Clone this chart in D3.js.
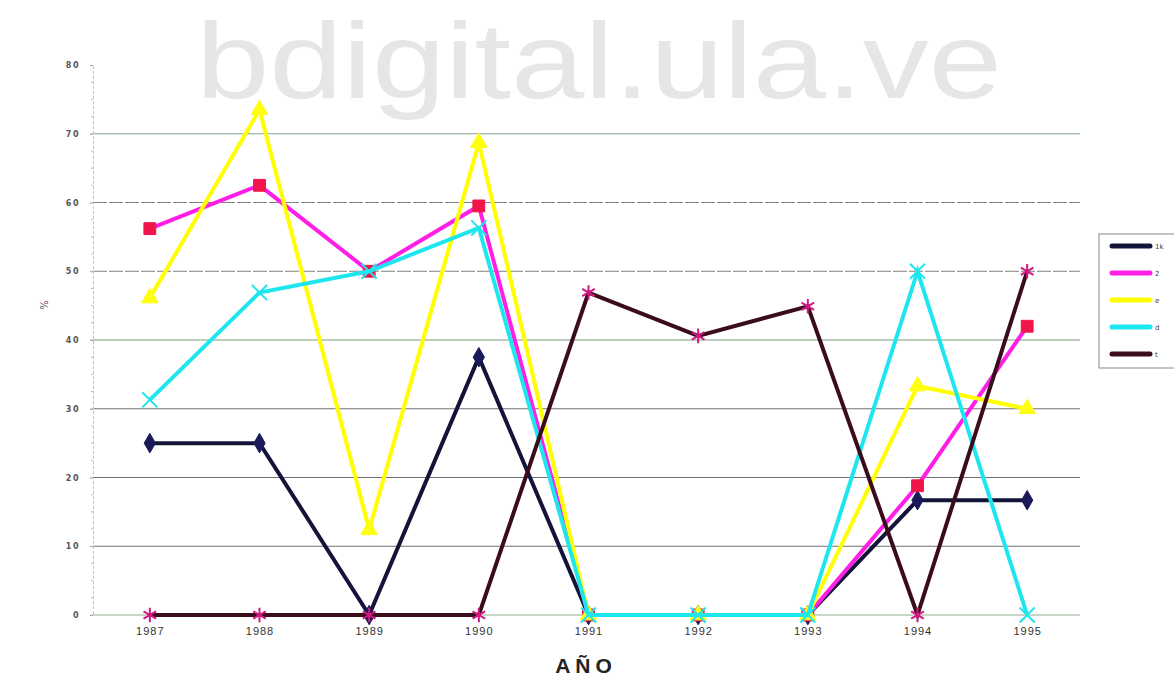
<!DOCTYPE html>
<html><head><meta charset="utf-8">
<script src="https://cdn.jsdelivr.net/npm/d3@7"></script>
<style>
html,body{margin:0;padding:0;background:#fff;}
svg{display:block;}
</style></head>
<body>
<svg id="c" width="1174" height="679"></svg>
<script>
const years = ["1987","1988","1989","1990","1991","1992","1993","1994","1995"];
const yTicks = [0,10,20,30,40,50,60,70,80];
const seriesNames = ["1k","2","e","d","t"];
const s1k = [25,25,0,37.5,0,0,0,16.7,16.7];
const s2  = [56.2,62.5,50,59.5,0,0,0,18.8,42];
const sE  = [46.1,73.5,12.4,68.7,0,0,0,33.3,30];
const sD  = [31.3,46.9,50,56.3,0,0,0,50,0];
const sT  = [0,0,0,0,46.9,40.6,44.9,0,50];
const seriesValues = [s1k,s2,sE,sD,sT];

const lineColors = ["#14143a","#ff1ee6","#ffff00","#1ee6ee","#3a0c1c"];
const markerFill = ["#1a1a5a","#f0154a","#ffff10","#1ee6ee","#d01880"];
const markerTypes = ["diamond","square","triangle","cross","star"];

const svg = d3.select("#c");

// watermark
svg.append("text")
  .attr("x",196).attr("y",98)
  .attr("font-family","Liberation Sans, Arial, sans-serif")
  .attr("font-size",108)
  .attr("textLength",806).attr("lengthAdjust","spacingAndGlyphs")
  .attr("fill","#e6e6e6")
  .text("bdigital.ula.ve");

const x = d3.scalePoint().domain(years).range([95,1082]).padding(0.5);
const y = d3.scaleLinear().domain([0,80]).range([615,65]);

// gridlines
const gridColors = ["#8fae8f","#6f6f6f","#6f6f6f","#7a6f7a","#7f9a7f","#808080","#808080","#7fa59a"];
svg.append("g").selectAll("line").data(yTicks.filter(v=>v<80)).join("line")
  .attr("x1",93).attr("x2",1080)
  .attr("y1",d=>y(d)).attr("y2",d=>y(d))
  .attr("stroke",(d,i)=>gridColors[i]).attr("stroke-width",1.1)
  .attr("stroke-dasharray",d=> (d===50||d===60)?"14,2":null);

// y axis
const yAxis = d3.axisLeft(y).tickValues(yTicks).tickSize(3).tickPadding(10);
const gy = svg.append("g").attr("transform","translate(93,0)").call(yAxis);
gy.select(".domain").attr("stroke","#c9c0c0").attr("stroke-dasharray","3,2");
gy.selectAll(".tick line").attr("stroke","#999");
gy.selectAll(".tick text")
  .attr("font-family","DejaVu Sans, sans-serif").attr("font-size",8).attr("font-weight","bold")
  .attr("letter-spacing",1.5).attr("fill","#555");
// minor ticks
svg.append("g").selectAll("line").data(d3.range(0,80,2.5)).join("line")
  .attr("x1",91).attr("x2",93).attr("y1",d=>y(d)).attr("y2",d=>y(d))
  .attr("stroke","#bbb");

// x axis labels
const xAxis = d3.axisBottom(x).tickSize(0).tickPadding(12);
const gx = svg.append("g").attr("transform","translate(0,615)").call(xAxis);
gx.select(".domain").remove();
gx.selectAll(".tick text")
  .attr("font-family","Liberation Sans Narrow, Liberation Sans, Arial, sans-serif")
  .attr("font-size",11).attr("fill","#333").attr("letter-spacing",1);

// axis titles
svg.append("text").attr("x",586).attr("y",673).attr("text-anchor","middle")
  .attr("font-family","Liberation Sans, Arial, sans-serif").attr("font-weight","bold")
  .attr("font-size",21).attr("letter-spacing",5).attr("fill","#222").text("AÑO");
svg.append("text").attr("transform","translate(48,305) rotate(-90)").attr("text-anchor","middle")
  .attr("font-family","DejaVu Sans, sans-serif").attr("font-size",10).attr("fill","#555").text("%");

// marker symbol helper
function marker(type){
  const m = {
    diamond: d3.symbol(d3.symbolDiamond,110),
    square: d3.symbol(d3.symbolSquare,140),
    triangle: d3.symbol(d3.symbolTriangle,120),
    cross: d3.symbol(d3.symbolX,150),
    star: d3.symbol(d3.symbolAsterisk,150)
  };
  return m[type]();
}

const line = d3.line().x((d,i)=>x(years[i])).y(d=>y(d));
seriesValues.forEach((vals,si)=>{
  const g = svg.append("g");
  g.append("path").datum(vals).attr("d",line)
    .attr("fill","none").attr("stroke",lineColors[si]).attr("stroke-width",4)
    .attr("stroke-linejoin","miter");
  g.selectAll("path.m").data(vals).join("path").attr("class","m")
    .attr("transform",(d,i)=>`translate(${x(years[i])},${y(d)})`)
    .attr("d",marker(markerTypes[si]))
    .attr("fill",(markerTypes[si]==="cross"||markerTypes[si]==="star")?"none":markerFill[si])
    .attr("stroke",markerFill[si])
    .attr("stroke-width",(markerTypes[si]==="cross"||markerTypes[si]==="star")?2:1);
});

// legend
const lg = svg.append("g");
lg.append("rect").attr("x",1099).attr("y",234).attr("width",80).attr("height",134)
  .attr("fill","#fff").attr("stroke","#888").attr("stroke-width",1);
seriesNames.forEach((n,i)=>{
  const yy = 246 + i*27;
  lg.append("line").attr("x1",1112).attr("x2",1150).attr("y1",yy).attr("y2",yy)
    .attr("stroke",lineColors[i]).attr("stroke-width",5).attr("stroke-linecap","round");
  lg.append("text").attr("x",1155).attr("y",yy+3).attr("font-family","DejaVu Sans, sans-serif")
    .attr("font-size",7).attr("fill","#444").text(n);
});
</script>
</body></html>
